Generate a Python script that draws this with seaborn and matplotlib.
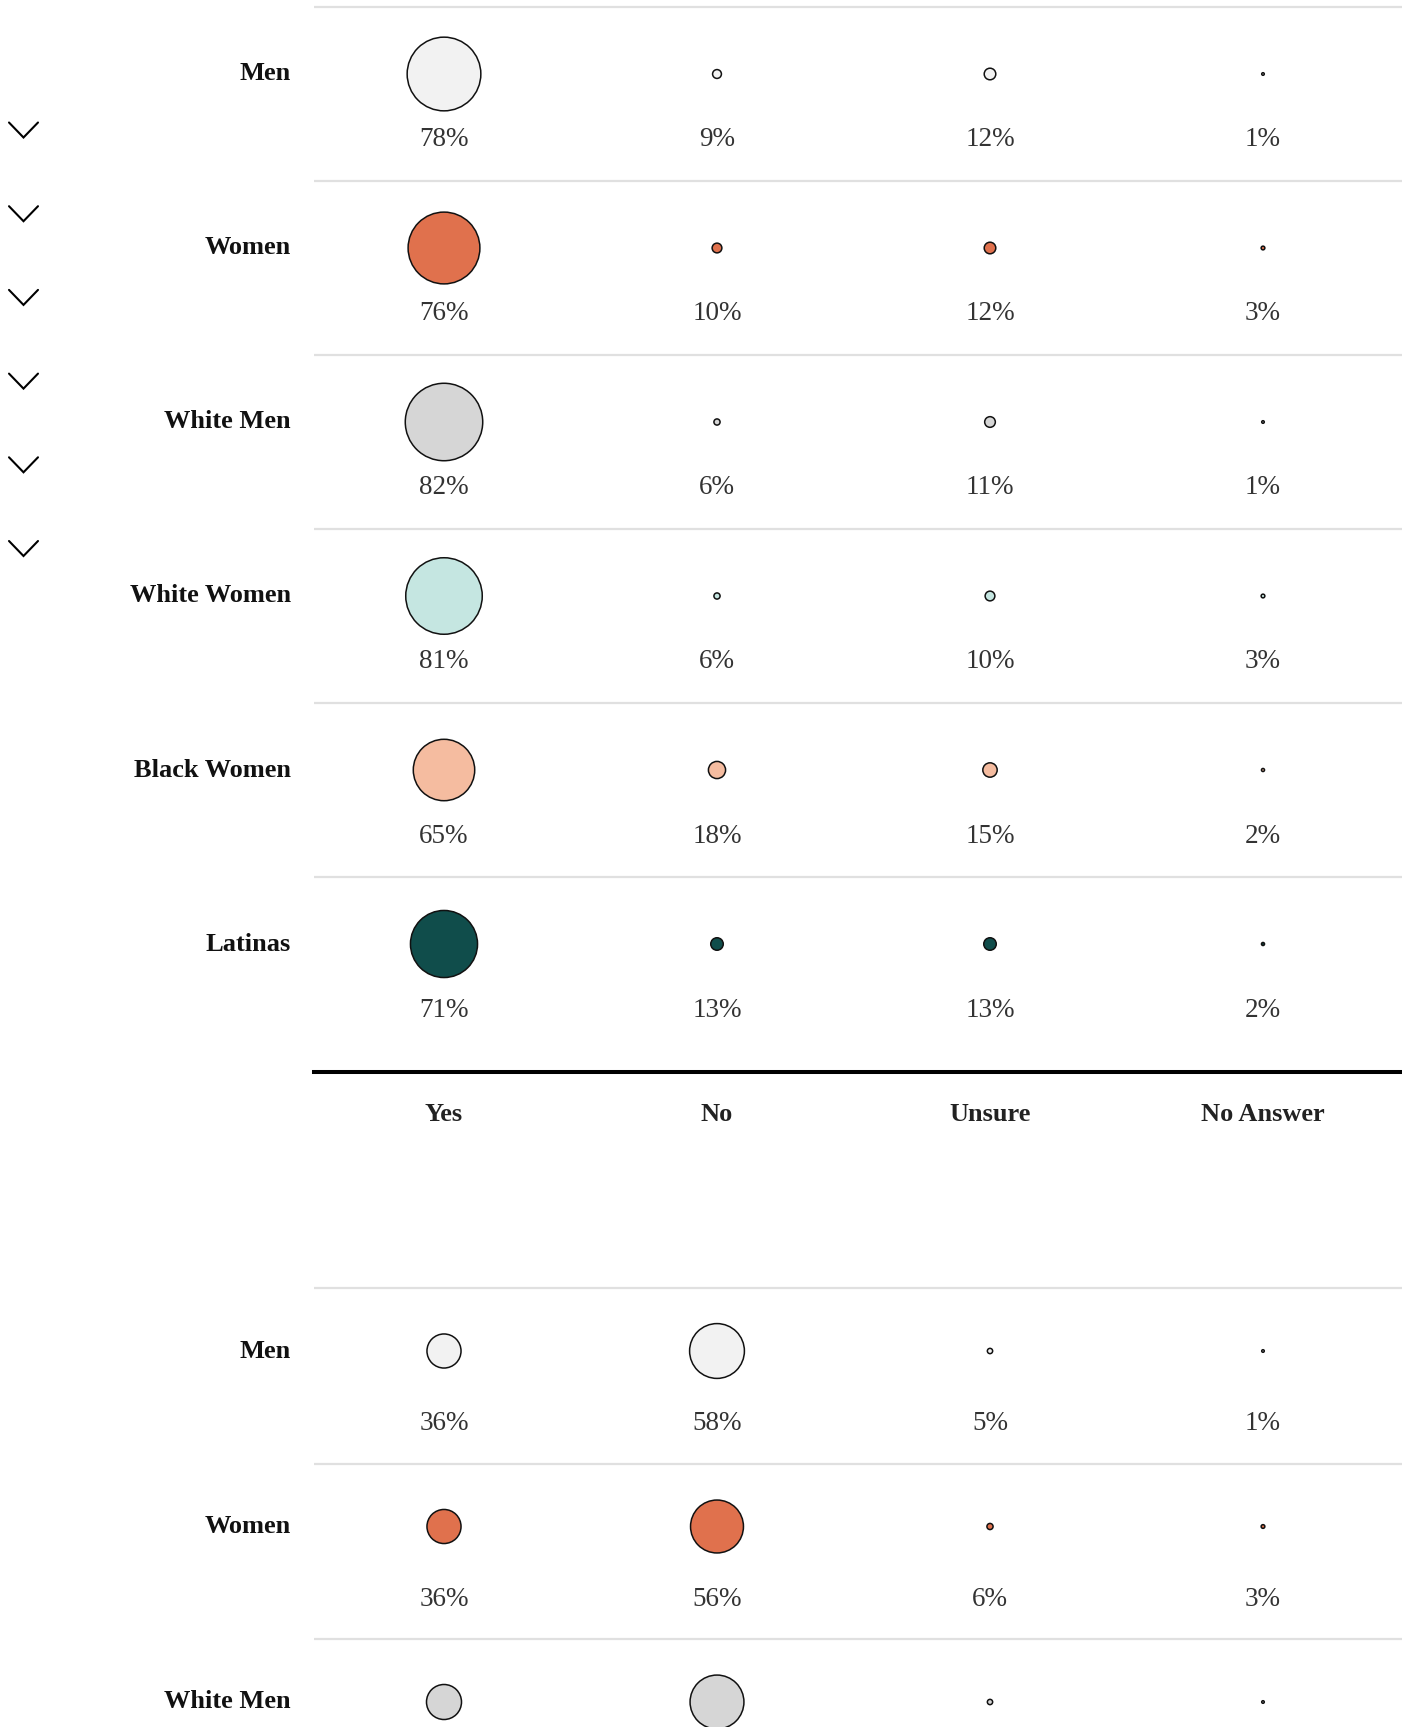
import matplotlib
matplotlib.use("Agg")
import matplotlib.pyplot as plt
import seaborn as sns
import pandas as pd

# Answer columns and row groups
answers = ["Yes", "No", "Unsure", "No Answer"]
groups_top = ["Men", "Women", "White Men", "White Women", "Black Women", "Latinas"]
groups_bottom = ["Men", "Women", "White Men"]

# First question (percent of each group)
q1_men = [78, 9, 12, 1]
q1_women = [76, 10, 12, 3]
q1_white_men = [82, 6, 11, 1]
q1_white_women = [81, 6, 10, 3]
q1_black_women = [65, 18, 15, 2]
q1_latinas = [71, 13, 13, 2]

# Second question (cut off at the bottom of the page)
q2_men = [36, 58, 5, 1]
q2_women = [36, 56, 6, 3]
q2_white_men = [37, 57, 5, 1]

group_colors = {
    "Men": "#f2f2f2",
    "Women": "#e0714d",
    "White Men": "#d6d6d6",
    "White Women": "#c5e6e1",
    "Black Women": "#f5bca0",
    "Latinas": "#104d4b",
}

W, H = 1402, 1727
COL0, COLSTEP = 444, 273     # pixel centre of first column, column spacing


def make_frame(groups, rows):
    recs = []
    for i, (g, vals) in enumerate(zip(groups, rows)):
        for j, (a, v) in enumerate(zip(answers, vals)):
            recs.append({"group": g, "answer": a, "pct": v, "row": i, "col": j})
    df = pd.DataFrame(recs)
    df["area"] = df["pct"] ** 2   # so marker diameter grows linearly with the share
    return df


def draw_panel(ax, df, groups, top_px, bottom_px, first_dot_px, rowstep, line_off, text_off):
    sns.scatterplot(data=df, x="col", y="row", hue="group", palette=group_colors,
                    size="area", sizes=(3, 4624), size_norm=(0, 10000),
                    edgecolor="#111111", linewidth=1.1, legend=False, ax=ax, zorder=3)
    ax.set_xlim((314 - COL0) / COLSTEP, (W - COL0) / COLSTEP)
    ymax = (bottom_px - first_dot_px) / rowstep
    ax.set_ylim(ymax, (top_px - first_dot_px) / rowstep)
    line_off = line_off / rowstep
    text_off = text_off / rowstep
    for _, r in df.iterrows():
        # labels that fall below the page edge are not shown
        if r["row"] + text_off + 0.1 > ymax:
            continue
        ax.text(r["col"], r["row"] + text_off, f"{r['pct']}%", ha="center", va="center",
                fontsize=19.5, color="#333333")
    for i, g in enumerate(groups):
        ax.axhline(i - line_off, color="#e0e0e0", lw=1.6, zorder=1)
        ax.text((291 - COL0) / COLSTEP, i, g, ha="right", va="center",
                fontsize=19, fontweight="bold", color="#111111")
    ax.set_xticks([])
    ax.set_yticks([])
    ax.set_xlabel("")
    ax.set_ylabel("")
    sns.despine(ax=ax, left=True, bottom=True)


sns.set_style("white")
plt.rcParams["font.family"] = ["Liberation Serif", "DejaVu Serif"]

fig = plt.figure(figsize=(W / 100, H / 100), dpi=100)

# top panel: from the page top down to the thick rule
top_df = make_frame(groups_top, [q1_men, q1_women, q1_white_men, q1_white_women,
                                  q1_black_women, q1_latinas])
ax1 = fig.add_axes([314 / W, 1 - 1072 / H, 1 - 314 / W, 1072 / H])
draw_panel(ax1, top_df, groups_top, 0, 1072, 74, 174, 67, 66)
ax1.spines["bottom"].set_visible(True)
ax1.spines["bottom"].set_color("black")
ax1.spines["bottom"].set_linewidth(2.9)
for j, a in enumerate(answers):
    ax1.text(j, (1114 - 74) / 174, a, ha="center", va="center",
             fontsize=19, fontweight="bold", color="#222222")

# bottom panel: second question, cut by the page edge
bot_df = make_frame(groups_bottom, [q2_men, q2_women, q2_white_men])
ax2 = fig.add_axes([314 / W, 0, 1 - 314 / W, (H - 1280) / H])
draw_panel(ax2, bot_df, groups_bottom, 1280, H, 1351, 175.5, 63, 73)

# collapse chevrons down the left edge
ui = fig.add_axes([0, 0, 1, 1], facecolor="none")
ui.set_xlim(0, W)
ui.set_ylim(H, 0)
ui.axis("off")
for k in range(6):
    yc = 130 + 83.7 * k
    ui.plot([9, 23.5, 38], [yc - 7.5, yc + 7.5, yc - 7.5], color="black", lw=1.5,
            solid_joinstyle="miter")

fig.savefig("out.png", dpi=100)
